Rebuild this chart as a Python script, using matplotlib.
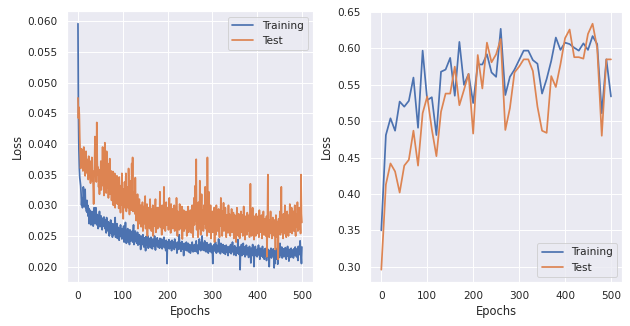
import numpy as np
import matplotlib
matplotlib.use("Agg")
import matplotlib.pyplot as plt
import seaborn as sns

# ---------------- Data ----------------
# Left panel: per-epoch loss (values in units of 1e-4)
epochs_left = list(range(0, 501))

train_loss_e4 = [
    596, 452, 392, 360, 345, 338, 332, 318, 300, 312, 296, 305, 330, 318, 298, 310, 326, 296, 302, 290,
    308, 288, 300, 282, 295, 270, 285, 292, 276, 268, 282, 290, 272, 280, 266, 275, 296, 284, 270, 278,
    296, 280, 268, 285, 274, 262, 280, 272, 290, 265, 276, 283, 268, 274, 260, 279, 270, 266, 281, 272,
    262, 276, 268, 255, 280, 266, 271, 258, 273, 264, 250, 269, 262, 276, 254, 266, 258, 248, 270, 260,
    252, 266, 259, 280, 248, 262, 255, 270, 246, 258, 264, 252, 243, 260, 255, 268, 249, 256, 245, 262,
    254, 248, 266, 240, 257, 250, 272, 245, 238, 258, 251, 262, 240, 254, 247, 236, 260, 249, 242, 255,
    246, 258, 240, 252, 268, 236, 249, 244, 258, 241, 250, 238, 245, 256, 235, 248, 242, 252, 237, 246,
    228, 250, 240, 244, 236, 252, 241, 232, 247, 239, 243, 226, 249, 238, 244, 235, 250, 230, 241, 246,
    236, 242, 231, 248, 238, 243, 229, 245, 236, 240, 233, 250, 238, 227, 244, 239, 236, 247, 232, 241,
    235, 243, 230, 246, 237, 232, 240, 245, 229, 238, 242, 234, 248, 231, 239, 236, 226, 243, 237, 205,
    240, 233, 238, 244, 229, 236, 241, 232, 239, 226, 243, 235, 230, 240, 236, 228, 245, 233, 238, 231,
    236, 222, 240, 232, 238, 228, 252, 234, 230, 239, 225, 236, 241, 229, 235, 232, 218, 238, 230, 236,
    227, 234, 240, 226, 233, 229, 238, 224, 232, 236, 228, 222, 235, 230, 226, 240, 231, 224, 234, 229,
    236, 225, 232, 228, 242, 224, 230, 235, 221, 233, 228, 245, 230, 236, 226, 240, 229, 250, 233, 227,
    238, 231, 226, 242, 228, 235, 224, 232, 239, 227, 230, 222, 236, 229, 233, 225, 238, 230, 223, 234,
    228, 205, 232, 225, 236, 230, 226, 240, 229, 222, 235, 228, 232, 224, 245, 230, 226, 233, 221, 238,
    227, 232, 224, 229, 236, 222, 231, 226, 234, 220, 229, 235, 224, 228, 232, 218, 230, 226, 233, 223,
    228, 236, 221, 230, 225, 240, 224, 232, 219, 228, 234, 223, 229, 218, 231, 226, 222, 244, 228, 220,
    226, 232, 195, 228, 222, 236, 218, 230, 224, 238, 220, 227, 232, 216, 229, 224, 235, 219, 228, 222,
    231, 215, 226, 233, 220, 228, 206, 230, 223, 218, 236, 224, 229, 200, 226, 221, 233, 218, 227, 224,
    216, 229, 222, 235, 219, 226, 212, 230, 224, 217, 228, 222, 233, 215, 226, 220, 212, 229, 223, 218,
    230, 210, 225, 220, 216, 228, 222, 200, 226, 219, 224, 230, 214, 227, 221, 218, 229, 223, 198, 225,
    205, 227, 220, 212, 222, 230, 204, 224, 218, 228, 215, 238, 222, 219, 226, 232, 214, 224, 220, 229,
    216, 225, 222, 231, 218, 212, 227, 221, 233, 217, 224, 209, 228, 220, 226, 215, 230, 222, 218, 227,
    221, 214, 229, 223, 218, 232, 220, 226, 216, 229, 222, 210, 233, 219, 226, 220, 242, 225, 218, 205,
    232,
]

test_loss_e4 = [
    475, 442, 460, 448, 410, 385, 360, 372, 392, 368, 381, 356, 370, 395, 362, 378, 348, 372, 388, 360,
    375, 352, 368, 342, 380, 359, 346, 372, 336, 364, 350, 378, 340, 356, 326, 302, 345, 368, 412, 352,
    385, 338, 435, 372, 350, 362, 330, 344, 318, 358, 336, 372, 325, 348, 340, 395, 332, 352, 316, 362,
    402, 338, 355, 320, 388, 342, 328, 368, 312, 350, 336, 376, 318, 330, 356, 308, 342, 322, 355, 300,
    335, 318, 352, 296, 340, 326, 312, 348, 302, 328, 338, 295, 346, 312, 322, 288, 332, 308, 352, 300,
    318, 278, 326, 305, 338, 296, 314, 352, 290, 322, 306, 330, 296, 360, 312, 285, 318, 300, 340, 292,
    368, 305, 378, 290, 322, 298, 312, 286, 345, 300, 275, 306, 292, 318, 262, 296, 284, 310, 270, 288,
    300, 265, 292, 278, 305, 258, 286, 298, 270, 282, 315, 262, 290, 276, 302, 250, 284, 296, 272, 288,
    262, 310, 280, 294, 258, 286, 272, 300, 250, 278, 292, 266, 284, 310, 256, 282, 270, 296, 262, 286,
    296, 268, 280, 322, 264, 290, 276, 252, 300, 272, 286, 262, 330, 278, 292, 258, 284, 305, 268, 290,
    272, 296, 260, 285, 312, 268, 290, 255, 302, 278, 270, 294, 262, 288, 276, 300, 258, 282, 296, 268,
    312, 276, 250, 290, 268, 284, 260, 302, 274, 262, 288, 276, 298, 245, 280, 266, 292, 258, 284, 272,
    262, 290, 274, 250, 286, 268, 298, 256, 280, 270, 262, 292, 276, 255, 284, 300, 266, 248, 282, 312,
    268, 290, 332, 275, 375, 260, 296, 278, 248, 305, 282, 262, 340, 270, 252, 288, 318, 264, 292, 276,
    258, 300, 270, 286, 330, 262, 296, 274, 250, 378, 284, 266, 322, 256, 290, 272, 300, 246, 282, 268,
    290, 256, 278, 264, 296, 240, 282, 270, 252, 300, 268, 286, 258, 276, 294, 262, 248, 285, 270, 312,
    266, 284, 250, 290, 272, 304, 258, 276, 262, 296, 270, 248, 284, 266, 278, 255, 300, 262, 286, 270,
    250, 282, 268, 294, 256, 276, 262, 288, 246, 272, 284, 258, 270, 240, 280, 296, 262, 276, 250, 286,
    268, 246, 278, 262, 290, 256, 272, 284, 250, 266, 298, 260, 276, 244, 282, 264, 270, 252, 288, 262,
    276, 258, 284, 248, 270, 335, 262, 280, 250, 274, 296, 258, 268, 244, 282, 264, 272, 250, 286, 262,
    270, 254, 282, 262, 248, 292, 266, 276, 256, 270, 284, 246, 268, 262, 290, 252, 272, 260, 278, 250,
    266, 282, 216, 272, 350, 258, 276, 248, 268, 262, 290, 254, 272, 246, 264, 280, 256, 270, 250, 276,
    262, 228, 284, 256, 274, 248, 266, 212, 278, 258, 270, 290, 252, 268, 330, 256, 274, 262, 246, 286,
    268, 254, 300, 262, 278, 248, 272, 290, 258, 266, 250, 284, 270, 302, 256, 276, 262, 296, 254, 282,
    268, 290, 258, 276, 300, 262, 250, 286, 272, 264, 305, 258, 280, 268, 296, 262, 276, 254, 350, 286,
    272,
]

# Right panel: evaluated every 10 epochs
epochs_right = list(range(0, 501, 10))
train_right = [
    0.350, 0.481, 0.504, 0.487, 0.527, 0.520, 0.528, 0.560, 0.491, 0.597,
    0.529, 0.533, 0.481, 0.568, 0.571, 0.587, 0.535, 0.609, 0.550, 0.565,
    0.525, 0.578, 0.578, 0.592, 0.567, 0.561, 0.627, 0.536, 0.561, 0.571,
    0.584, 0.597, 0.597, 0.584, 0.579, 0.538, 0.558, 0.583, 0.615, 0.598,
    0.608, 0.606, 0.601, 0.597, 0.607, 0.598, 0.617, 0.606, 0.511, 0.585,
    0.534,
]
test_right = [
    0.296, 0.413, 0.442, 0.431, 0.402, 0.439, 0.447, 0.487, 0.439, 0.511,
    0.534, 0.489, 0.452, 0.513, 0.538, 0.538, 0.575, 0.522, 0.543, 0.565,
    0.483, 0.591, 0.545, 0.608, 0.581, 0.592, 0.613, 0.488, 0.518, 0.567,
    0.575, 0.585, 0.585, 0.569, 0.520, 0.487, 0.484, 0.562, 0.547, 0.578,
    0.614, 0.626, 0.588, 0.588, 0.586, 0.620, 0.634, 0.601, 0.480, 0.585,
    0.585,
]

series_labels = ["Training", "Test"]
x_label = "Epochs"
y_label = "Loss"

# ---------------- Plot ----------------
sns.set_theme()
DPI = 69
fig = plt.figure(figsize=(630 / DPI, 326 / DPI), dpi=DPI)
ax1 = fig.add_axes([0.106, 0.135, 0.497 - 0.106, 0.965 - 0.135])
ax2 = fig.add_axes([0.587, 0.135, 0.988 - 0.587, 0.965 - 0.135])

train_left = np.array(train_loss_e4) / 1e4
test_left = np.array(test_loss_e4) / 1e4

LW = 1.8
ax1.plot(epochs_left, train_left, label=series_labels[0], lw=LW)
ax1.plot(epochs_left, test_left, label=series_labels[1], lw=LW)
ax1.set_xlabel(x_label)
ax1.set_ylabel(y_label)
ax1.set_yticks([0.020, 0.025, 0.030, 0.035, 0.040, 0.045, 0.050, 0.055, 0.060])
ax1.legend(loc="upper right")

ax2.plot(epochs_right, train_right, label=series_labels[0], lw=LW)
ax2.plot(epochs_right, test_right, label=series_labels[1], lw=LW)
ax2.set_xlabel(x_label)
ax2.set_ylabel(y_label)
ax2.legend(loc="lower right")

fig.savefig("out.png", dpi=DPI)
